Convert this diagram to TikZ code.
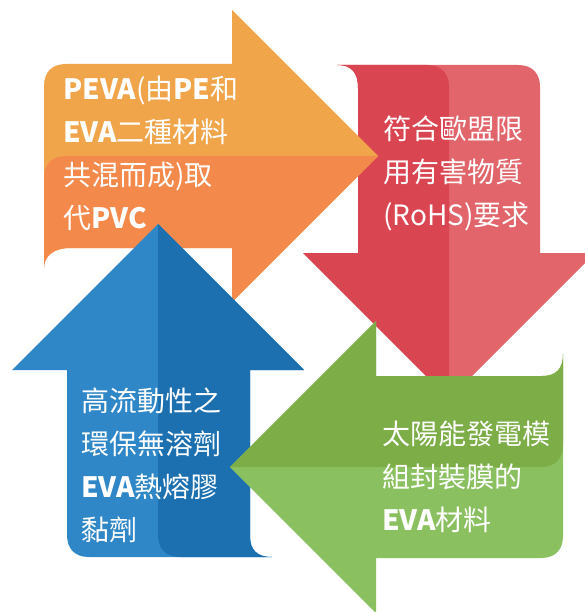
\documentclass[tikz,border=0pt]{standalone}
\usepackage{fontspec}
\setmainfont{Noto Sans CJK TC}
\usepackage{tikz}
\usetikzlibrary{positioning}
\usepackage{xcolor}
\definecolor{orangeL}{HTML}{F0A54B}
\definecolor{orangeD}{HTML}{F3894B}
\definecolor{redL}{HTML}{E1656B}
\definecolor{redD}{HTML}{D94551}
\definecolor{blueL}{HTML}{3087C7}
\definecolor{blueD}{HTML}{1C70B0}
\definecolor{greenL}{HTML}{8BC061}
\definecolor{greenD}{HTML}{7DAD47}

\begin{document}
\begin{tikzpicture}[x=1pt,y=-1pt,
  arrowtext/.style={text=white,align=left,inner sep=0pt,anchor=west,font=\fontsize{28}{43}\selectfont}]
\useasboundingbox (0,0) rectangle (585,612);
% red arrow, pointing down
\fill[redL] (518,65) .. controls (532,65) and (540,73) .. (540,87) -- (540,253) -- (595,253) -- (449,399) -- (303,253) -- (358,253) -- (358,88) .. controls (358,72) and (351,65) .. (337,65) -- cycle;
\fill[redD] (427,65) .. controls (441,65) and (449,73) .. (449,87) -- (449,399) -- (303,253) -- (358,253) -- (358,88) .. controls (358,72) and (351,65) .. (337,65) -- cycle;
% orange arrow, pointing right
\fill[orangeL] (44,86) .. controls (44,72) and (52,64) .. (66,64) -- (232,64) -- (232,10) -- (378,156) -- (232,302) -- (232,248) -- (70,248) .. controls (54,248) and (44,256) .. (44,268) -- cycle;
\fill[orangeD] (44,178) .. controls (44,164) and (52,156) .. (66,156) -- (378,156) -- (232,302) -- (232,248) -- (70,248) .. controls (54,248) and (44,256) .. (44,268) -- cycle;
% blue arrow, pointing up
\fill[blueL] (89,557) .. controls (75,557) and (67,549) .. (67,535) -- (67,370) -- (12,370) -- (158,224) -- (304,370) -- (250,370) -- (250,536) .. controls (250,550) and (257,557) .. (272,557) -- cycle;
\fill[blueD] (180,557) .. controls (166,557) and (158,549) .. (158,535) -- (158,224) -- (304,370) -- (250,370) -- (250,536) .. controls (250,550) and (257,557) .. (272,557) -- cycle;
% green arrow, pointing left
\fill[greenL] (563,536) .. controls (563,550) and (555,558) .. (541,558) -- (376,558) -- (376,613) -- (230,467) -- (376,321) -- (376,376) -- (542,376) .. controls (556,376) and (563,369) .. (563,354) -- cycle;
\fill[greenD] (563,445) .. controls (563,459) and (555,467) .. (541,467) -- (230,467) -- (376,321) -- (376,376) -- (542,376) .. controls (556,376) and (563,369) .. (563,354) -- cycle;

\node[arrowtext] (peva) at (63,153) {\textbf{PEVA}(由\textbf{PE}和\\\textbf{EVA}二種材料\\共混而成)取\\代\textbf{PVC}};
\node[arrowtext] (rohs) at (383,173) {符合歐盟限\\用有害物質\\(RoHS)要求};
\node[arrowtext] (glue) at (81,465) {高流動性之\\環保無溶劑\\\textbf{EVA}熱熔膠\\黏劑};
\node[arrowtext] (solar) at (382,477) {太陽能發電模\\組封裝膜的\\\textbf{EVA}材料};
\end{tikzpicture}
\end{document}
